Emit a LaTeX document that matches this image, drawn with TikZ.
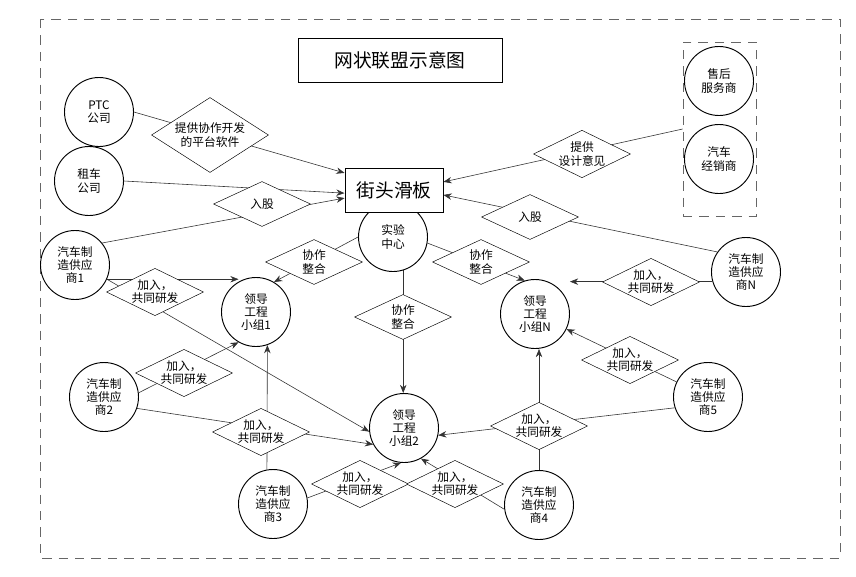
\documentclass[tikz,border=0pt]{standalone}
\usepackage{fontspec}
\setmainfont{Noto Sans CJK SC}
\usetikzlibrary{positioning, arrows.meta, shapes.geometric, backgrounds, calc}

\begin{document}
\begin{tikzpicture}[x=0.03cm, y=-0.03cm,
        member/.style={circle, draw, thick, fill=white, minimum size=2.07cm, inner sep=0pt, align=center, font=\fontsize{10pt}{11.3pt}\selectfont},
        deal/.style={diamond, draw, fill=white, aspect=2, inner sep=0pt, minimum width=2.91cm, minimum height=1.35cm, align=center, font=\fontsize{10pt}{11.3pt}\selectfont},
        hub/.style={rectangle, draw, thick, fill=white, inner sep=0pt, font=\fontsize{16pt}{18pt}\selectfont},
        link/.style={draw=black!80, line width=0.5pt},
        arr/.style={link, -{Stealth[length=7pt, width=5.5pt]}},
        frame/.style={draw=black!60, dash pattern=on 8pt off 6pt, line width=0.6pt},
    ]
    \useasboundingbox (0,0) rectangle (856,576);
    \draw[frame] (40,19) rectangle (840,558);

    % Title and core company
    \node[hub, minimum width=6.12cm, minimum height=1.32cm] (title) at (400,60) {网状联盟示意图};
    \node[member] (lab) at (393,237) {实验\\中心};
    \node[hub, minimum width=2.94cm, minimum height=1.32cm] (board) at (394,190) {街头滑板};

    % Partners
    \node[member] (ptc) at (99,112) {PTC\\公司};
    \node[member] (rent) at (89,181) {租车\\公司};
    \node[member] (after) at (719,81) {售后\\服务商};
    \node[member] (dealer) at (719,159) {汽车\\经销商};
    \node[frame, rectangle, minimum width=2.19cm, minimum height=5.22cm] (dealers) at (719.5,129) {};

    % Suppliers and lead groups
    \foreach \k/\x/\y in {1/75/265, 2/104/397, 3/273/504, 4/539/505, 5/708/397, N/746/272}
        \node[member] (s\k) at (\x,\y) {汽车制\\造供应\\商\k};
    \foreach \g/\x/\y in {1/256/312, N/535/314, 2/404/428}
        \node[member] (lead\g) at (\x,\y) {领导\\工程\\小组\g};

    % Relations
    \node[deal, aspect=1.56, minimum width=3.51cm, minimum height=2.25cm] (soft) at (210,135) {提供协作开发\\的平台软件};
    \node[deal] (shareL) at (262,204) {入股};
    \node[deal] (shareR) at (530,217) {入股};
    \node[deal] (advice) at (582,154) {提供\\设计意见};
    \foreach \c/\x/\y in {L/314/262, R/481/262, M/403/317}
        \node[deal] (coop\c) at (\x,\y) {协作\\整合};
    \foreach \d/\x/\y in {1/155/292, 2/184/373, 3/261/432, 4/360/484, 5/455/484, 6/539/426, 7/630/360, 8/651/282}
        \node[deal] (join\d) at (\x,\y) {加入，\\共同研发};

    % Ports on the core company
    \coordinate (inPtc) at ($(board.north west)!0.12!(board.south west)$);
    \coordinate (inRent) at ($(board.north west)!0.57!(board.south west)$);
    \coordinate (inS1) at ($(board.north west)!0.68!(board.south west)$);
    \coordinate (inDealers) at ($(board.north east)!0.32!(board.south east)$);
    \coordinate (inSN) at ($(board.north east)!0.61!(board.south east)$);

    \begin{scope}[on background layer]
        % into the core company
        \draw[arr] (ptc.east) -- (inPtc);
        \draw[arr] (rent.east) -- (inRent);
        \draw[arr] (s1.39) -- (inS1);
        \draw[arr] (dealers.west) -- (inDealers);
        \draw[arr] (sN.145) -- (inSN);
        % lab to lead groups
        \draw[arr] (lab.west) -- (lead1.59);
        \draw[arr] (lab.-10) -- (leadN.107);
        \draw[arr] (lab.-73) -- (lab.-73 |- lead2.north);
        % suppliers to lead groups
        \draw[arr] (s1.-24) -- (s1.-24 -| lead1.120);
        \draw[arr] (s1.-24) -- (lead2.186);
        \draw[arr] (s2.7) -- (lead1.-120);
        \draw[arr] (s2.-19) -- (lead2.-152);
        \draw[arr] (s3.100) -- (lead1.-71);
        \draw[arr] (s3.10) -- (lead2.-95);
        \draw[arr] (s4.187) -- (lead2.-61);
        \draw[arr] (s4.north) -- (s4.north |- leadN.south);
        \draw[arr] (s5.198) -- (lead2.-12);
        \draw[arr] (s5) -- (leadN);
        \draw[arr] (sN.196) -- (sN.196 -| leadN.east);
    \end{scope}
\end{tikzpicture}
\end{document}
